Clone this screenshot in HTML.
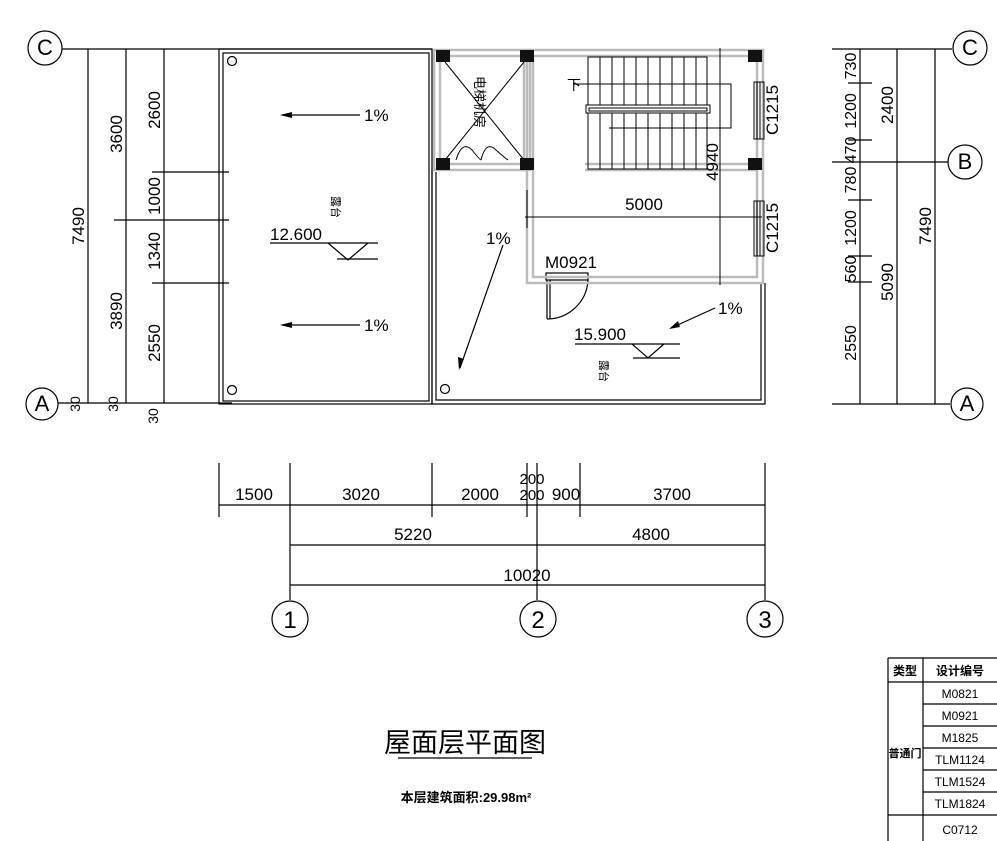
<!DOCTYPE html>
<html><head><meta charset="utf-8"><style>
html,body{margin:0;padding:0;background:#fff;width:997px;height:841px;overflow:hidden}
svg{display:block}
text{font-family:"Liberation Sans","Noto Sans CJK SC",sans-serif;fill:#000}
</style></head><body>
<svg width="997" height="841" viewBox="0 0 997 841" xmlns="http://www.w3.org/2000/svg">
<g stroke="#000" stroke-width="1.2" fill="none">
<circle cx="45" cy="48" r="17"/><circle cx="42" cy="404" r="16"/>
<line x1="62" y1="49" x2="432" y2="49"/>
<line x1="58" y1="403" x2="232" y2="403"/>
<line x1="88" y1="49" x2="88" y2="403"/><line x1="126" y1="49" x2="126" y2="403"/><line x1="164" y1="49" x2="164" y2="403"/>
<line x1="152" y1="172" x2="229" y2="172"/><line x1="114" y1="220" x2="229" y2="220"/><line x1="152" y1="283" x2="229" y2="283"/>
<rect x="219" y="49" width="213" height="355"/><rect x="223" y="53" width="206" height="348"/>
<circle cx="232" cy="61" r="4.5"/><circle cx="232" cy="390" r="4.5"/>
<line x1="282" y1="115" x2="360" y2="115"/><line x1="282" y1="325" x2="360" y2="325"/>
<line x1="270" y1="243" x2="378" y2="243"/><polyline points="328,243 348,260 368,243"/><line x1="337" y1="259" x2="378" y2="259"/>
<polyline points="432,170 432,404 765,404 765,283"/><polyline points="436,172 436,400 761,400 761,283"/>
<circle cx="445" cy="389" r="4.5"/>
<line x1="503" y1="245" x2="460" y2="368"/>
<line x1="715" y1="308" x2="671" y2="328"/>
<line x1="575" y1="344" x2="680" y2="344"/><polyline points="632,344 648,358 664,344"/><line x1="633" y1="358" x2="680" y2="358"/>
<rect x="546" y="273" width="42" height="7"/><line x1="547" y1="280" x2="547" y2="319"/><line x1="550" y1="280" x2="550" y2="319"/>
<path d="M547,319 A41,41 0 0 0 588,280"/>
</g>
<g fill="#000">
<polygon points="280,115 292,112 292,118"/><polygon points="280,325 292,322 292,328"/>
<polygon points="459,370 458,357 464,359"/><polygon points="669,329 678,321 680,327"/>
</g>
<g stroke="#bbb" stroke-width="2.5" fill="none">
<rect x="434" y="50" width="96" height="120"/><rect x="440" y="56" width="84" height="108"/>
<rect x="527" y="50" width="236" height="233"/><rect x="533" y="56" width="224" height="221"/>
<line x1="585" y1="170" x2="757" y2="170"/><line x1="585" y1="164" x2="757" y2="164"/>
</g>
<g stroke="#000" stroke-width="1" fill="none">
<line x1="445" y1="62" x2="524" y2="160"/><line x1="524" y1="62" x2="445" y2="160"/>
<path d="M456,160 Q462,140 472,150 Q480,160 481,160 M481,160 Q486,140 496,150 Q505,158 508,160"/>
<rect x="588" y="57" width="119" height="48"/><rect x="588" y="112" width="119" height="57"/>
<path d="M600,57V105M612,57V105M624,57V105M636,57V105M648,57V105M660,57V105M672,57V105M684,57V105M696,57V105"/>
<path d="M600,112V169M612,112V169M624,112V169M636,112V169M648,112V169M660,112V169M672,112V169M684,112V169M696,112V169"/>
<rect x="586" y="105" width="124" height="8" fill="#fff"/><rect x="589" y="108" width="118" height="3"/>
<polyline points="573,84 731,84 731,128 609,128"/>
<line x1="720" y1="48" x2="720" y2="285"/><line x1="525" y1="217" x2="762" y2="217"/><line x1="527" y1="190" x2="527" y2="228"/>
<rect x="754" y="82" width="10" height="57"/><line x1="757" y1="82" x2="757" y2="139"/><line x1="760" y1="82" x2="760" y2="139"/>
<rect x="754" y="201" width="10" height="55"/><line x1="757" y1="201" x2="757" y2="256"/><line x1="760" y1="201" x2="760" y2="256"/>
</g>
<g fill="#111">
<rect x="436" y="50" width="14" height="12"/><rect x="520" y="50" width="14" height="12"/><rect x="748" y="50" width="14" height="12"/>
<rect x="436" y="158" width="14" height="12"/><rect x="520" y="158" width="14" height="12"/><rect x="748" y="158" width="14" height="12"/>
</g>
<g stroke="#000" stroke-width="1.2" fill="none">
<line x1="832" y1="49" x2="952" y2="49"/><line x1="832" y1="162" x2="948" y2="162"/><line x1="832" y1="404" x2="950" y2="404"/>
<line x1="860" y1="49" x2="860" y2="404"/><line x1="897" y1="49" x2="897" y2="404"/><line x1="935" y1="49" x2="935" y2="404"/>
<path d="M848,83H872M848,140H872M848,200H872M848,256H872M848,282H872"/>
<circle cx="970" cy="48" r="17"/><circle cx="965" cy="162" r="17"/><circle cx="967" cy="404" r="16"/>
<path d="M219,463V517M290,463V600M432,463V517M527,463V517M537,463V600M580,463V517M765,463V600"/>
<line x1="219" y1="505" x2="765" y2="505"/><line x1="290" y1="545" x2="765" y2="545"/><line x1="290" y1="585" x2="765" y2="585"/>
<circle cx="290" cy="619" r="18"/><circle cx="538" cy="619" r="18"/><circle cx="765" cy="619" r="18"/>
<line x1="398" y1="758" x2="532" y2="758"/>
<path d="M888,658H997M888,682H997M923,704H997M923,726H997M923,748H997M923,770H997M923,792H997M888,815H997M888,658V841M923,658V841"/>
</g>
<g font-size="18">
<text x="45" y="55" text-anchor="middle" font-family="Liberation Serif" font-size="22">C</text>
<text x="42" y="411" text-anchor="middle" font-family="Liberation Serif" font-size="22">A</text>
<text x="970" y="55" text-anchor="middle" font-family="Liberation Serif" font-size="22">C</text>
<text x="965" y="169" text-anchor="middle" font-family="Liberation Serif" font-size="22">B</text>
<text x="967" y="411" text-anchor="middle" font-family="Liberation Serif" font-size="22">A</text>
<text x="290" y="628" text-anchor="middle" font-family="Liberation Serif" font-size="24">1</text>
<text x="538" y="628" text-anchor="middle" font-family="Liberation Serif" font-size="24">2</text>
<text x="765" y="628" text-anchor="middle" font-family="Liberation Serif" font-size="24">3</text>
</g>
<g font-size="17">
<g text-anchor="middle">
<text transform="translate(84,226) rotate(-90)">7490</text>
<text transform="translate(122,134) rotate(-90)">3600</text>
<text transform="translate(122,311) rotate(-90)">3890</text>
<text transform="translate(160,110) rotate(-90)">2600</text>
<text transform="translate(160,196) rotate(-90)">1000</text>
<text transform="translate(160,251) rotate(-90)">1340</text>
<text transform="translate(160,343) rotate(-90)">2550</text>
<text transform="translate(80,404) rotate(-90)" font-size="14">30</text>
<text transform="translate(118,404) rotate(-90)" font-size="14">30</text>
<text transform="translate(158,416) rotate(-90)" font-size="14">30</text>
<text transform="translate(856,66) rotate(-90)" font-size="16">730</text>
<text transform="translate(856,111) rotate(-90)" font-size="16">1200</text>
<text transform="translate(856,150) rotate(-90)" font-size="16">470</text>
<text transform="translate(856,180) rotate(-90)" font-size="16">780</text>
<text transform="translate(856,228) rotate(-90)" font-size="16">1200</text>
<text transform="translate(856,269) rotate(-90)" font-size="16">560</text>
<text transform="translate(856,343) rotate(-90)" font-size="16">2550</text>
<text transform="translate(893,105) rotate(-90)">2400</text>
<text transform="translate(893,282) rotate(-90)">5090</text>
<text transform="translate(931,226) rotate(-90)">7490</text>
<text transform="translate(778,110) rotate(-90)">C1215</text>
<text transform="translate(778,228) rotate(-90)">C1215</text>
<text transform="translate(718,162) rotate(-90)">4940</text>
<text x="254" y="500">1500</text><text x="361" y="500">3020</text><text x="480" y="500">2000</text>
<text x="532" y="500" font-size="15">200</text><text x="532" y="484" font-size="15">200</text>
<text x="566" y="500">900</text><text x="672" y="500">3700</text>
<text x="413" y="540">5220</text><text x="651" y="540">4800</text><text x="527" y="581">10020</text>
<text x="644" y="210">5000</text>
</g>
<text x="364" y="121">1%</text><text x="364" y="331">1%</text>
<text x="486" y="244">1%</text><text x="718" y="314">1%</text>
<text x="270" y="240">12.600</text><text x="574" y="340">15.900</text>
<text x="545" y="268">M0921</text>
<text x="567" y="90" font-size="14">下</text>
<text transform="translate(475,76) rotate(90)" font-size="13">电梯机房</text>
<text transform="translate(332,196) rotate(90)" font-size="11">露台</text>
<text transform="translate(600,360) rotate(90)" font-size="11">露台</text>
</g>
<text x="465" y="752" text-anchor="middle" font-size="27" font-family="'Noto Serif CJK SC',serif">屋面层平面图</text>
<text x="466" y="802" text-anchor="middle" font-size="13" font-weight="bold">本层建筑面积:29.98m²</text>
<g font-size="12" text-anchor="middle">
<text x="905" y="675" font-weight="bold">类型</text><text x="960" y="675" font-weight="bold">设计编号</text>
<text x="905" y="757" font-weight="bold" font-size="11">普通门</text>
<text x="960" y="698">M0821</text><text x="960" y="720">M0921</text><text x="960" y="742">M1825</text>
<text x="960" y="764">TLM1124</text><text x="960" y="786">TLM1524</text><text x="960" y="808">TLM1824</text>
<text x="960" y="834">C0712</text>
</g>
</svg>
</body></html>
